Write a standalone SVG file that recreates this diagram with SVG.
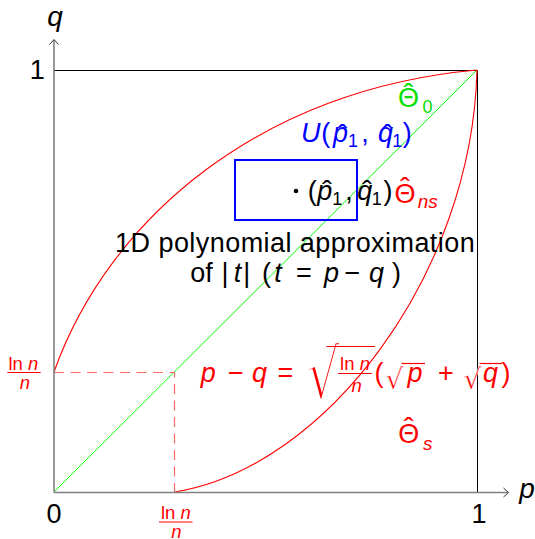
<svg xmlns="http://www.w3.org/2000/svg" width="535" height="539" viewBox="0 0 535 539">
<style>
text{font-family:'Liberation Sans',Arial,sans-serif;font-size:27px;text-anchor:middle}
.i{font-style:italic}
.sub{font-size:18px}
.fr{font-size:18.5px}
.hat{font-size:30px}
.st{text-anchor:start}
.rad{font-family:'DejaVu Sans',sans-serif;text-anchor:start;stroke:#fff}
.rl{stroke:#f00;stroke-width:1.2}
</style>
<rect width="535" height="539" fill="#fff"/>
<g id="frame" fill="none">
<path d="M54,70.5H477.5V492" stroke="#000" stroke-width="1"/>
</g>
<g id="connectors" fill="none">
<path id="diag" d="M54,492L477,70" stroke="#0f0" stroke-width="1"/>
<path id="upper" d="M54,372C109.3,216.6 262.9,88.9 477,70" stroke="#f00" stroke-width="1.1"/>
<path id="lower" d="M175,492C325,468 472,275 477,70" stroke="#f00" stroke-width="1.1"/>
<path id="dash" d="M54,372.5H174.5V492" stroke="#f66" stroke-width="1.2" stroke-dasharray="10 6.5"/>
</g>
<g id="axes" fill="none">
<path d="M54,492.5H508M54,492.5V40" stroke="#808080" stroke-width="1.6"/>
<path d="M49.5,44.5L54,39.5L58.5,44.5M503.5,488L508.5,492.5L503.5,497" stroke="#333" stroke-width="1"/>
</g>
<g id="axis-labels" fill="#000">
<text class="i" x="55" y="26" style="font-size:28px">q</text>
<text x="37.2" y="79">1</text>
<text x="54" y="523">0</text>
<text x="479" y="523">1</text>
<text class="i" x="527" y="498" style="font-size:28px">p</text>
</g>
<g id="frac-left" fill="#f00">
<text class="fr" x="23.3" y="369.5">ln <tspan class="i">n</tspan></text>
<line class="rl" x1="7.3" y1="372.5" x2="40.7" y2="372.5"/>
<text class="fr i" x="25" y="389.3">n</text>
</g>
<g id="frac-bottom" fill="#f00">
<text class="fr" x="175.8" y="518.5">ln <tspan class="i">n</tspan></text>
<line class="rl" x1="159" y1="522" x2="192.5" y2="522"/>
<text class="fr i" x="176.5" y="537.5">n</text>
</g>
<g id="theta0" fill="#00dd00">
<text x="408.4" y="107">Θ</text>
<text class="hat" x="408.4" y="104.2">ˆ</text>
<text class="sub" x="427.5" y="112.5">0</text>
</g>
<g id="U-label" fill="#00f">
<text class="i" x="310.8" y="142">U</text>
<text x="325.8" y="142">(</text>
<text class="i" x="340.5" y="142">p</text>
<text class="hat" x="342.5" y="144.5">ˆ</text>
<text class="sub" x="353" y="147">1</text>
<text x="365" y="142">,</text>
<text class="i" x="385.5" y="142">q</text>
<text class="hat" x="387.5" y="144.5">ˆ</text>
<text class="sub" x="397.3" y="147">1</text>
<text x="407.3" y="142">)</text>
</g>
<g id="box">
<rect x="235" y="160" width="122" height="60" fill="none" stroke="#00f" stroke-width="2"/>
</g>
<g id="point" fill="#000">
<circle cx="296" cy="191" r="2.3"/>
<text x="312.3" y="200">(</text>
<text class="i" x="324.8" y="200">p</text>
<text class="hat" x="327" y="200.5">ˆ</text>
<text class="sub" x="337.3" y="205">1</text>
<text x="349" y="200">,</text>
<text class="i" x="364.8" y="200">q</text>
<text class="hat" x="367" y="200.5">ˆ</text>
<text class="sub" x="376.7" y="205">1</text>
<text x="388" y="200">)</text>
</g>
<g id="theta-ns" fill="#f00">
<text x="405" y="203">Θ</text>
<text class="hat" x="405" y="197.5">ˆ</text>
<text class="sub i" x="427.7" y="207.5" style="font-size:19px">ns</text>
</g>
<g id="approx-label" fill="#000">
<text class="st" x="115.1" y="251.5" textLength="359.6">1D polynomial approximation</text>
<text y="282"><tspan x="201.5">of</tspan><tspan x="225">|</tspan><tspan class="i" x="237.5">t</tspan><tspan x="246.7">|</tspan><tspan x="266.5">(</tspan><tspan class="i" x="278">t</tspan><tspan x="304">=</tspan><tspan class="i" x="331.5">p</tspan><tspan x="352.3">−</tspan><tspan class="i" x="376.5">q</tspan><tspan x="396.5">)</tspan></text>
</g>
<g id="formula" fill="#f00">
<text class="i" x="208.3" y="382">p</text>
<text x="236" y="382">−</text>
<text class="i" x="259.5" y="382">q</text>
<text x="285.5" y="382">=</text>
<text class="rad" transform="translate(306.5,399) scale(0.75,1)" style="font-size:70px;stroke-width:2.3">√</text>
<line class="rl" x1="326.5" y1="346.5" x2="375" y2="346.5"/>
<text class="fr" x="355" y="370">ln <tspan class="i">n</tspan></text>
<line class="rl" x1="338" y1="373.5" x2="371.7" y2="373.5"/>
<text class="fr i" x="356.7" y="391.5">n</text>
<text x="379" y="382">(</text>
<text class="rad" x="385.5" y="389" style="font-size:28px;stroke-width:0.5">√</text>
<line class="rl" x1="401.5" y1="363.5" x2="425" y2="363.5"/>
<text class="i" x="415" y="382">p</text>
<text x="446" y="382">+</text>
<text class="rad" x="463.5" y="389" style="font-size:28px;stroke-width:0.5">√</text>
<line class="rl" x1="479.5" y1="363.5" x2="502" y2="363.5"/>
<text class="i" x="490.5" y="382">q</text>
<text x="506" y="382">)</text>
</g>
<g id="theta-s" fill="#f00">
<text x="408.7" y="443">Θ</text>
<text class="hat" x="408.7" y="437.5">ˆ</text>
<text class="sub i" x="427.7" y="450" style="font-size:19px">s</text>
</g>
</svg>
